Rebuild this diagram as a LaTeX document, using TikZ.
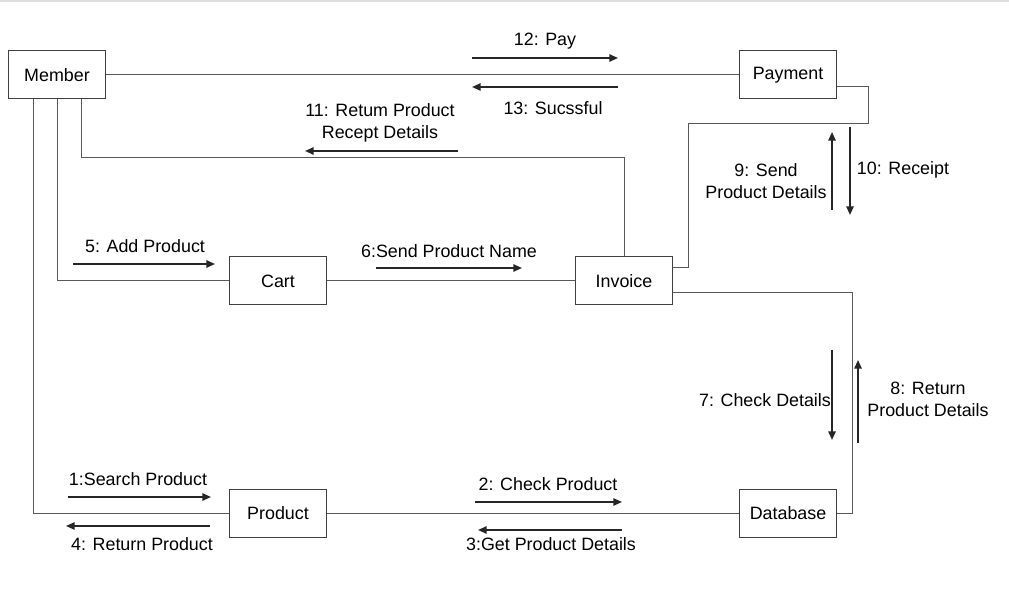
\documentclass[tikz,border=0pt]{standalone}
\usepackage{fontspec}
\setmainfont{Liberation Sans}
\usetikzlibrary{arrows.meta}

\begin{document}
\begin{tikzpicture}[x=0.75pt,y=-0.75pt,line width=0.75pt]
  \useasboundingbox (0,0) rectangle (1009,605);
  \draw[black!12,line width=1.5pt] (0,1) -- (1009,1);

  \tikzstyle{every node} = [font=\fontsize{13.4}{16.5}\selectfont]
  \tikzstyle{obj} = [draw=black!75, fill=white, minimum width=72.75pt, minimum height=36pt, inner sep=0pt]
  \tikzstyle{wire} = [draw=black!65]
  \tikzstyle{msg} = [draw=black!85, line width=1.3pt, -{Triangle[length=6.5pt,width=5.5pt]}]
  \tikzstyle{lbl} = [align=center, inner sep=1pt]

  \node[obj] (member) at (57,75) {Member};
  \node[obj] (payment) at (788,75) {Payment};
  \node[obj] (cart) at (278,281) {Cart};
  \node[obj] (invoice) at (624,281) {Invoice};
  \node[obj] (product) at (278,513) {Product};
  \node[obj] (database) at (788,513) {Database};

  \coordinate (bend11) at (624,158);
  \coordinate (payr) at (868,124);
  \coordinate (invr) at (688,268);
  \coordinate (dbr) at (852,293);

  \path[wire] (member) edge (payment);
  \path[wire] (cart) edge (invoice);
  \path[wire] (product) edge (database);
  \draw[wire] ([xshift=-18pt]member.south) |- (product.west);
  \draw[wire] (member.south) |- (cart.west);
  \draw[wire] ([xshift=18pt]member.south) |- (bend11) -- (invoice.north);
  \draw[wire] ([yshift=-9pt]payment.east) -| (payr) -| (invr) -- (invr -| invoice.east);
  \draw[wire] (dbr -| invoice.east) -- (dbr) |- (database.east);

  \draw[msg] (472,58) -- (618,58);
  \node[lbl] (m12) at (545,41) {12: Pay};
  \draw[msg] (618,87) -- (472,87);
  \node[lbl] (m13) at (553,108) {13: Sucssful};
  \draw[msg] (458,151) -- (305,151);
  \node[lbl] (m11) at (380,123) {11: Retum Product\\Recept Details};
  \draw[msg] (73,264) -- (215,264);
  \node[lbl] (m5) at (145,246) {5: Add Product};
  \draw[msg] (376,268) -- (522,268);
  \node[lbl] (m6) at (449,251) {6:Send Product Name};
  \draw[msg] (832,210) -- (832,132);
  \node[lbl] (m9) at (766,181) {9: Send\\Product Details};
  \draw[msg] (850,127) -- (850,215);
  \node[lbl] (m10) at (903,170) {10: Receipt};
  \draw[msg] (832,350) -- (832,440);
  \node[lbl] (m7) at (765,400) {7: Check Details};
  \draw[msg] (858,443) -- (858,360);
  \node[lbl] (m8) at (928,399) {8: Return\\Product Details};
  \draw[msg] (68,497) -- (211,497);
  \node[lbl] (m1) at (138,479) {1:Search Product};
  \draw[msg] (210,526) -- (66,526);
  \node[lbl] (m4) at (142,544) {4: Return Product};
  \draw[msg] (475,502) -- (622,502);
  \node[lbl] (m2) at (548,484) {2: Check Product};
  \draw[msg] (622,530) -- (478,530);
  \node[lbl] (m3) at (551,544) {3:Get Product Details};
\end{tikzpicture}
\end{document}
